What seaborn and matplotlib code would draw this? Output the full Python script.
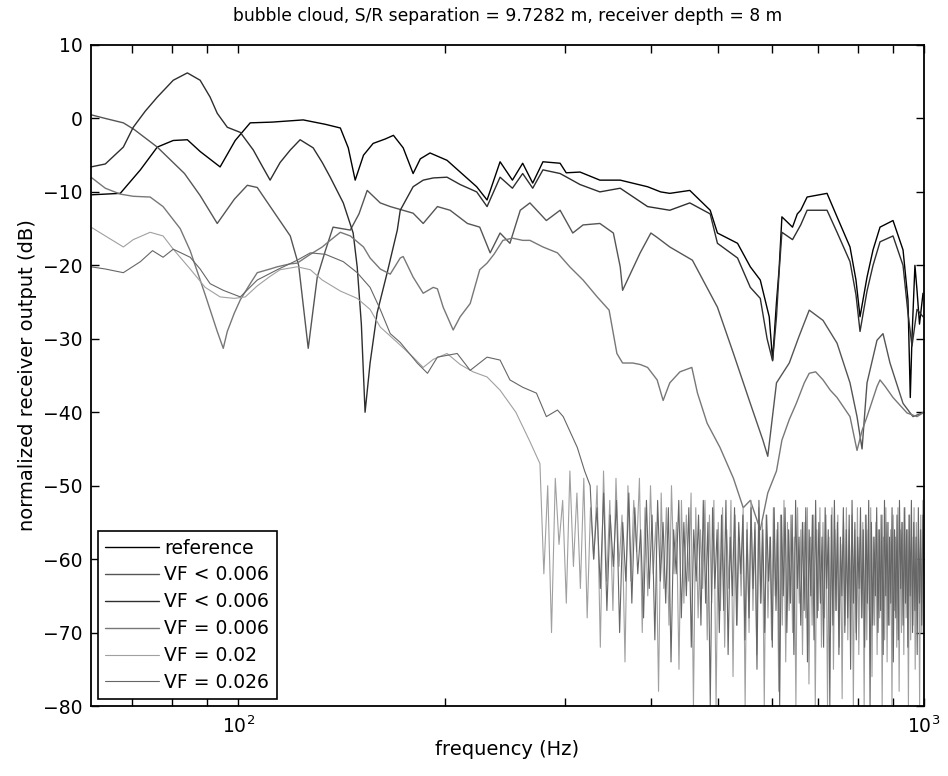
import numpy as np
import matplotlib
matplotlib.use('Agg')
import matplotlib.pyplot as plt
import seaborn as sns
from matplotlib.ticker import FixedLocator, NullFormatter

# ---------------- data (Hz, dB) ----------------
REF_HZ = [61.0, 67.3, 72.0, 76.2, 80.4, 84.3, 88.0, 94.1, 99.0, 104.1, 112.0, 124.4, 134.0,
          140.9, 144.7, 148.1, 152.3, 157.3, 163.8, 168.4, 174.0, 179.9, 184.3, 190.4, 201.6,
          210.7, 222.7, 230.6, 240.9, 251.1, 259.9, 268.8, 278.2, 294.7, 300.8, 315.1, 336.8,
          360.6, 395.3, 413.0, 425.9, 455.5, 487.8, 499.8, 534.7, 558.1, 577.1, 594.7, 601.5,
          609.4, 614.7, 620.6, 643.1, 653.5, 661.0, 675.4, 722.1, 746.8, 780.0, 795.8, 806.7,
          825.9, 842.7, 862.7, 901.2, 932.0, 947.6, 955.0, 960.5, 970.0, 976.8, 985.0, 996.7]
REF_DB = [-10.4, -10.2, -7.0, -3.9, -3.0, -2.9, -4.5, -6.6, -3.0, -0.6, -0.5, -0.2, -0.8,
          -1.3, -4.0, -8.4, -5.0, -3.4, -2.8, -2.3, -4.0, -7.5, -5.5, -4.7, -5.7,
          -7.3, -9.3, -11.1, -5.9, -8.4, -6.1, -8.8, -5.9, -6.1, -7.4, -7.3, -8.4,
          -8.4, -9.3, -10.0, -10.2, -9.8, -12.5, -15.6, -17.0, -20.2, -22.0, -27.0, -32.9,
          -25.0, -20.6, -13.4, -14.8, -13.0, -12.5, -10.7, -10.2, -13.4, -17.5, -22.0, -27.0,
          -21.6, -17.9, -14.8, -13.9, -17.9, -24.7, -38.0, -29.8, -20.0, -23.4, -28.0, -23.8]

VFA_HZ = [61.0, 64.0, 68.0, 70.5, 76.2, 83.5, 88.0, 93.2, 98.7, 103.1, 106.6, 114.0, 119.1,
          122.5, 126.5, 128.6, 130.4, 134.0, 137.5, 145.7, 150.0, 154.2, 161.1, 166.6, 179.9,
          186.1, 195.2, 203.7, 215.9, 225.0, 233.0, 240.9, 249.0, 257.8, 266.3, 281.4, 294.7,
          307.5, 318.3, 336.8, 352.4, 360.6, 363.5, 385.6, 399.7, 408.2, 425.9, 459.5, 499.8,
          527.4, 558.1, 582.2, 591.8, 609.4, 636.1, 656.5, 680.2, 712.5, 746.8, 780.0, 798.6,
          812.2, 825.9, 854.0, 871.4, 892.1, 932.0, 963.7, 1000.0]
VFA_DB = [0.5, 0.0, -0.6, -1.5, -3.9, -7.5, -10.5, -14.3, -11.0, -9.1, -9.4, -13.4, -16.0,
          -20.0, -31.3, -26.0, -21.6, -18.0, -14.8, -15.2, -13.0, -9.8, -11.5, -12.0, -12.9,
          -14.3, -12.0, -12.5, -14.3, -14.8, -18.3, -15.6, -17.0, -12.5, -11.5, -13.9, -12.5,
          -15.6, -14.5, -14.3, -15.6, -20.2, -23.4, -18.3, -15.6, -16.2, -17.5, -19.3, -25.7,
          -32.0, -38.8, -43.8, -46.0, -36.0, -33.3, -29.8, -26.1, -27.5, -30.6, -36.0, -40.6,
          -45.0, -36.0, -30.2, -29.3, -33.3, -38.8, -40.6, -40.0]

VFB_HZ = [61.0, 64.0, 68.0, 70.3, 73.2, 76.2, 80.4, 84.3, 88.0, 91.0, 93.2, 96.4, 100.7,
          105.2, 108.4, 111.3, 115.1, 119.1, 123.1, 128.6, 132.6, 136.2, 142.3, 147.1, 149.1,
          151.2, 153.1, 155.7, 159.4, 164.9, 170.6, 172.3, 179.9, 186.1, 192.5, 201.6, 210.7,
          222.7, 230.6, 240.9, 251.1, 259.9, 268.8, 278.2, 294.7, 315.1, 336.8, 360.6, 395.3,
          425.9, 455.5, 487.8, 499.8, 534.7, 558.1, 577.1, 590.5, 601.5, 609.4, 614.7, 620.6,
          643.1, 661.0, 675.4, 722.1, 746.8, 780.0, 795.8, 806.7, 825.9, 842.7, 862.7, 901.2,
          932.0, 947.6, 960.5, 976.8, 996.7]
VFB_DB = [-6.6, -6.2, -3.9, -1.2, 1.0, 2.9, 5.2, 6.2, 5.2, 2.9, 0.7, -1.2, -1.9,
          -4.3, -6.5, -8.4, -6.0, -4.3, -2.9, -4.0, -6.0, -8.0, -11.5, -15.6, -20.2,
          -28.0, -40.0, -33.3, -26.5, -21.0, -15.2, -12.5, -9.3, -8.4, -8.1, -8.0, -9.0,
          -10.0, -12.0, -8.0, -9.5, -7.5, -9.5, -7.0, -7.5, -9.0, -10.0, -9.5, -12.0,
          -12.5, -11.5, -13.0, -17.0, -19.0, -23.0, -24.5, -30.0, -33.0, -27.0, -21.0, -15.5,
          -16.5, -14.5, -12.5, -12.5, -15.5, -19.5, -24.0, -29.0, -23.5, -20.0, -16.8, -16.0,
          -20.0, -26.5, -31.0, -26.0, -27.0]

VF006_HZ = [61.0, 64.0, 67.3, 70.3, 74.4, 77.7, 82.3, 85.1, 89.5, 93.2, 95.1, 96.4, 98.7,
            100.7, 104.1, 106.6, 111.3, 114.0, 119.1, 121.9, 127.4, 132.6, 136.2, 140.9, 145.7,
            152.3, 155.7, 161.1, 166.6, 172.3, 174.0, 179.9, 186.1, 192.5, 195.2, 199.0, 205.8,
            210.7, 217.9, 225.0, 230.6, 236.0, 243.2, 251.1, 259.9, 266.3, 278.2, 292.1, 304.4,
            318.3, 333.8, 347.4, 356.6, 363.5, 376.0, 385.6, 395.3, 408.2, 416.5, 425.9, 440.7,
            458.6, 467.4, 482.8, 504.1, 527.4, 545.0, 558.1, 577.1, 591.8, 609.4, 620.6, 636.1,
            651.3, 669.0, 680.2, 695.0, 712.5, 730.0, 746.8, 780.0, 798.6, 812.2, 825.9, 854.0,
            862.7, 878.0, 901.2, 932.0, 944.6, 976.8, 1000.0]
VF006_DB = [-8.0, -9.5, -10.3, -10.6, -10.7, -12.0, -15.0, -18.0, -24.0, -29.0, -31.3, -29.0, -26.5,
            -24.7, -22.5, -21.0, -20.5, -20.2, -19.8, -19.7, -18.5, -17.5, -16.6, -15.5, -16.0,
            -17.5, -19.0, -20.5, -21.2, -19.0, -18.8, -21.6, -23.8, -23.0, -23.2, -25.7, -28.8,
            -27.0, -25.2, -20.6, -19.7, -18.5, -16.6, -16.3, -16.6, -16.6, -17.5, -18.3, -20.2,
            -22.0, -24.3, -26.1, -32.0, -33.3, -33.3, -33.5, -33.9, -35.6, -38.4, -36.0, -34.5,
            -33.9, -37.4, -41.5, -44.8, -49.0, -53.0, -52.0, -56.0, -51.0, -48.0, -43.8, -41.0,
            -38.8, -36.0, -34.7, -34.5, -35.6, -37.0, -38.0, -40.6, -45.2, -42.5, -40.6, -36.5,
            -35.6, -36.5, -38.0, -39.5, -40.1, -40.6, -40.0]

VF02_HZ = [61.0, 64.0, 68.0, 70.3, 74.4, 77.7, 80.4, 85.1, 89.5, 94.1, 98.7, 102.4, 106.6,
           111.3, 115.1, 121.9, 127.4, 132.6, 140.9, 149.1, 155.7, 161.1, 170.6, 179.9, 186.1,
           192.5, 201.6, 210.7, 220.0, 230.6, 240.9, 254.0, 266.3]
VF02_DB = [-14.8, -16.0, -17.5, -16.5, -15.5, -16.0, -17.8, -20.5, -23.0, -24.3, -24.5, -24.3, -22.8,
           -21.5, -20.6, -20.2, -20.6, -22.0, -23.5, -24.5, -26.0, -28.4, -30.5, -32.5, -33.9,
           -32.8, -32.0, -33.5, -34.5, -35.2, -37.0, -40.0, -44.0]
# noisy tail of VF = 0.02, equally spaced bins 275 Hz .. 1000 Hz
VF02_TAIL_DB = [
    -47, -62, -50, -70, -49, -58, -52, -66, -48, -61, -51, -64, -49, -68, -53, -60, -50, -72, -48, -63,
    -52, -67, -49, -61, -54, -74, -50, -63, -52, -59, -49, -70, -53, -65, -50, -62, -55, -78, -51, -64,
    -53, -69, -50, -62, -55, -75, -52, -66, -54, -63, -51, -80, -53, -68, -56, -64, -52, -71, -54, -66,
    -52, -80, -55, -67, -53, -72, -56, -64, -52, -76, -54, -69, -57, -65, -53, -80, -55, -70, -52, -67,
    -56, -73, -53, -66, -55, -80, -54, -68, -57, -71, -53, -65, -56, -78, -54, -69, -52, -74, -55, -67,
    -54, -70, -57, -80, -53, -66, -56, -73, -55, -68, -53, -77, -57, -69, -54, -80, -56, -67, -53, -72,
    -55, -68, -54, -80, -57, -70, -53, -75, -56, -67, -54, -72, -58, -79, -55, -69, -53, -71, -56, -66,
    -54, -80, -56, -70, -53, -73, -57, -68, -55, -80, -54, -71, -56, -67, -53, -76, -57, -69, -55, -73,
    -56, -68, -54, -80, -57, -71, -53, -74, -55, -69, -56, -80, -54, -67, -57, -72, -53, -78, -56, -70,
    -55, -73, -53, -68, -56, -80, -54, -71, -57, -69, -53, -75, -55, -67, -56, -80, -54, -70, -52, -66]

VF026_HZ = [61.0, 64.0, 68.0, 72.0, 75.0, 77.7, 80.4, 85.1, 88.0, 91.0, 95.1, 100.7, 106.6,
            114.0, 121.9, 127.4, 134.0, 142.3, 149.1, 155.7, 161.1, 166.6, 172.3, 182.4, 188.8,
            195.2, 208.6, 217.9, 230.6, 240.9, 249.0, 259.9, 272.2, 281.4, 292.1, 297.8, 312.2,
            320.0]
VF026_DB = [-20.2, -20.5, -21.0, -19.5, -18.0, -18.9, -17.8, -18.9, -20.5, -22.5, -23.4, -24.3, -22.0,
            -20.6, -19.3, -18.3, -18.5, -19.5, -21.0, -23.0, -26.0, -29.3, -30.5, -33.3, -34.7,
            -32.5, -32.0, -34.3, -32.5, -32.9, -35.6, -36.6, -37.4, -40.6, -39.7, -40.6, -44.8,
            -48.0]
# noisy tail of VF = 0.026, equally spaced bins 326 Hz .. 1000 Hz
VF026_TAIL_DB = [
    -50, -60, -53, -64, -51, -67, -54, -61, -52, -70, -55, -63, -51, -66, -53, -62, -56, -68, -52, -64,
    -54, -71, -52, -63, -55, -66, -53, -74, -56, -62, -52, -68, -55, -65, -53, -72, -56, -63, -54, -69,
    -52, -66, -55, -80, -53, -64, -56, -70, -54, -67, -52, -73, -57, -65, -53, -69, -55, -62, -54, -71,
    -56, -68, -53, -64, -55, -75, -52, -66, -56, -70, -54, -63, -57, -72, -53, -67, -55, -80, -54, -65,
    -53, -70, -56, -66, -54, -73, -52, -64, -57, -69, -55, -67, -53, -74, -56, -65, -54, -71, -52, -68,
    -55, -66, -57, -72, -53, -64, -56, -80, -54, -69, -52, -67, -55, -73, -57, -65, -53, -70, -56, -68,
    -54, -75, -52, -66, -55, -71, -57, -64, -53, -68, -56, -72, -54, -66, -52, -80, -55, -69, -57, -65,
    -53, -70, -56, -67, -54, -73, -52, -65, -55, -69, -57, -66, -53, -74, -56, -68, -54, -71, -52, -64,
    -55, -69, -53, -66, -56, -72, -54, -65, -52, -70, -55, -67, -57, -73, -53, -66, -56, -69, -54, -62]

LABELS = ['reference', 'VF < 0.006', 'VF < 0.006', 'VF = 0.006', 'VF = 0.02', 'VF = 0.026']
COLORS = ['#000000', '#555555', '#2e2e2e', '#777777', '#a0a0a0', '#666666']
WIDTHS = [1.0, 1.0, 1.0, 1.0, 0.8, 0.8]
YTICKS = [10, 0, -10, -20, -30, -40, -50, -60, -70, -80]

# ---------------- assemble series ----------------
vf02_hz = VF02_HZ + list(np.linspace(275.4, 1000.0, len(VF02_TAIL_DB)))
vf02_db = VF02_DB + VF02_TAIL_DB
vf026_hz = VF026_HZ + list(np.linspace(326.0, 1000.0, len(VF026_TAIL_DB)))
vf026_db = VF026_DB + VF026_TAIL_DB

series = [(REF_HZ, REF_DB), (VFA_HZ, VFA_DB), (VFB_HZ, VFB_DB),
          (VF006_HZ, VF006_DB), (vf02_hz, vf02_db), (vf026_hz, vf026_db)]

sns.set_style("ticks")
plt.rcParams['font.family'] = ['DejaVu Sans']
plt.rcParams['mathtext.fontset'] = 'dejavusans'
plt.rcParams['text.color'] = 'black'
plt.rcParams['axes.labelcolor'] = 'black'

fig = plt.figure(figsize=(9.48, 7.76), dpi=100)
ax = fig.add_axes([91 / 948, 1 - 706 / 776, 833 / 948, 661 / 776])

for (hz, db), lab, col, lw in zip(series, LABELS, COLORS, WIDTHS):
    sns.lineplot(x=hz, y=db, ax=ax, color=col, lw=lw, label=lab,
                 estimator=None, sort=False)

ax.set_xscale('log')
ax.set_xlim(61, 1000)
ax.set_ylim(-80, 10)
ax.set_yticks(YTICKS)
ax.xaxis.set_major_locator(FixedLocator([100, 1000]))
ax.xaxis.set_minor_locator(FixedLocator([70, 80, 90, 200, 300, 400, 500, 600, 700, 800, 900]))
ax.xaxis.set_minor_formatter(NullFormatter())
ax.set_xticklabels([r'$10^2$', r'$10^3$'])
ax.tick_params(which='both', direction='in', top=True, right=True, length=6,
               width=1.0, labelsize=13.5, colors='black')
ax.tick_params(axis='x', pad=7)
ax.tick_params(axis='y', pad=6)
for sp in ax.spines.values():
    sp.set_linewidth(1.3)
    sp.set_color('black')

ax.set_title('bubble cloud, S/R separation = 9.7282 m, receiver depth = 8 m',
             fontsize=12.3, pad=17, color='black')
ax.set_xlabel('frequency (Hz)', fontsize=14, labelpad=2)
ax.set_ylabel('normalized receiver output (dB)', fontsize=14, labelpad=4)

leg = ax.legend(loc='lower left', fontsize=13.5, handlelength=2.9, handletextpad=0.25,
                labelspacing=0.42, borderpad=0.4, borderaxespad=0.35, fancybox=False,
                framealpha=1, edgecolor='black')
leg.get_frame().set_linewidth(1.2)
for t in leg.get_texts():
    t.set_color('black')

fig.savefig('out.png', dpi=100)
